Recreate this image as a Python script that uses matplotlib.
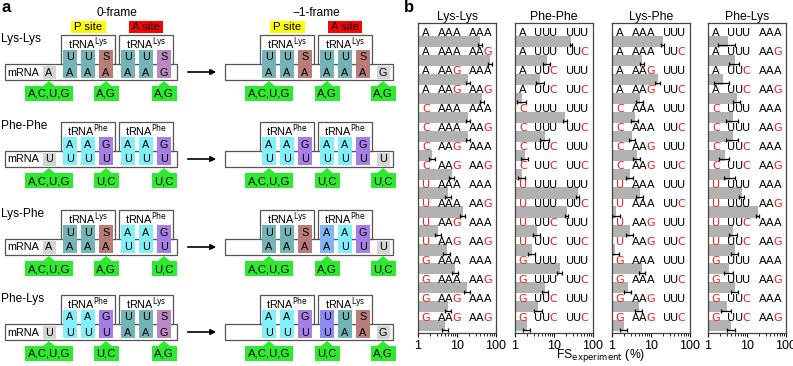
import numpy as np
import matplotlib
matplotlib.use("Agg")
import matplotlib.pyplot as plt
from matplotlib.patches import Rectangle, Polygon

plt.rcParams['font.family'] = ['Liberation Sans', 'DejaVu Sans']

# ---------------- panel a data ----------------
constructs = ['Lys-Lys', 'Phe-Phe', 'Lys-Phe', 'Phe-Lys']
trna_names = [('Lys', 'Lys'), ('Phe', 'Phe'), ('Lys', 'Phe'), ('Phe', 'Lys')]
zero_first = ['A', 'U', 'A', 'U']
zero_codons = ['AAAAAG', 'UUUUUU', 'AAAUUU', 'UUUAAG']
anticodons = ['UUSUUS', 'AAGAAG', 'UUSAAG', 'AAGUUS']
shift_codons = ['AAAAAA', 'UUUUUU', 'AAAAUU', 'UUUUAA']
shift_last = ['G', 'U', 'U', 'G']
green_labels = [('A,C,U,G', 'A,G', 'A,G'), ('A,C,U,G', 'U,C', 'U,C'),
                ('A,C,U,G', 'A,G', 'U,C'), ('A,C,U,G', 'U,C', 'A,G')]

pair_colors = {('U', 'A'): '#74b4b6', ('S', 'A'): '#b97c7a', ('S', 'G'): '#bb88c4',
               ('A', 'U'): '#82f0fa', ('G', 'U'): '#a77ee4', ('A', 'A'): '#82b6f0',
               ('U', 'U'): '#8c8cf0'}

# ---------------- panel b data ----------------
panel_titles = ['Lys-Lys', 'Phe-Phe', 'Lys-Phe', 'Phe-Lys']
first_nt = ['A'] * 4 + ['C'] * 4 + ['U'] * 4 + ['G'] * 4
codon_pairs = [[('AAA', 'AAA'), ('AAA', 'AAG'), ('AAG', 'AAA'), ('AAG', 'AAG')],
               [('UUU', 'UUU'), ('UUU', 'UUC'), ('UUC', 'UUU'), ('UUC', 'UUC')],
               [('AAA', 'UUU'), ('AAA', 'UUC'), ('AAG', 'UUU'), ('AAG', 'UUC')],
               [('UUU', 'AAA'), ('UUU', 'AAG'), ('UUC', 'AAA'), ('UUC', 'AAG')]]

fs_lyslys = [39, 70, 19, 44, 19, 19, 2.3, 7.4, 5.9, 14, 3.3, 5.5, 9, 18, 6, 5]
fs_phephe = [27, 6.6, 4.4, 1.5, 19, 5.9, 1.8, 1.5, 41, 21, 3.7, 2.7, 14, 6, 4, 2]
fs_lysphe = [20, 5.9, 15, 5.2, 3.9, 3.3, 4.4, 2.9, 5.2, 1.3, 2.9, 1.2, 6, 2.5, 5, 2]
fs_phelys = [3.3, 4.9, 2.4, 5.5, 4.4, 4.4, 2.7, 3.7, 7.4, 19, 4.4, 4.9, 3.5, 5, 3, 4]

err_lyslys = [4, 8, 2, 5, 2, 2, 0.4, 1.2, 1.0, 2, 0.6, 1.0, 1.5, 3, 1, 0.8]
err_phephe = [2, 1.5, 1.0, 0.4, 2, 1.5, 0.4, 0.3, 4, 1.5, 0.8, 0.5, 2, 1, 1, 0.4]
err_lysphe = [2, 0.8, 2, 1.0, 0.8, 0.6, 0.9, 0.6, 1.0, 0.3, 0.6, 0.3, 1, 0.5, 1, 0.4]
err_phelys = [1.5, 1.5, 1.0, 1.0, 1.5, 1.5, 0.8, 1.2, 1.2, 1.5, 1.0, 1.0, 1, 1, 0.8, 1]

fs_values = [fs_lyslys, fs_phephe, fs_lysphe, fs_phelys]
fs_errors = [err_lyslys, err_phephe, err_lysphe, err_phelys]

W, H = 793, 366
fig = plt.figure(figsize=(W / 100, H / 100), dpi=100)

# ---------------- panel a (pixel coordinates) ----------------
axa = fig.add_axes([0, 0, 1, 1])
axa.set_xlim(0, W)
axa.set_ylim(H, 0)
axa.axis('off')

edge = '#555555'
green = '#2eea2e'
fsz = 7.8


def tile_x(base, i):
    return base + 18 * i + (4 if i >= 3 else 0)


def draw_green(cx, y0, label):
    wbox = 48 if len(label) > 4 else 25
    axa.add_patch(Polygon([(cx - 6, y0 + 22), (cx + 6, y0 + 22), (cx, y0 + 17)],
                          closed=True, color=green, lw=0))
    axa.add_patch(Rectangle((cx - wbox / 2, y0 + 22), wbox, 15, color=green, lw=0))
    axa.text(cx, y0 + 30, label, ha='center', va='center', fontsize=8.2)


def draw_construct(r, y0, base, mrna_x, codons, grey_x, grey_nt, shifted):
    # mRNA strand
    axa.add_patch(Rectangle((mrna_x[0], y0), mrna_x[1] - mrna_x[0], 16,
                            fc='white', ec=edge, lw=0.9, zorder=1))
    if not shifted:
        axa.text(7, y0 + 8.5, 'mRNA', ha='left', va='center', fontsize=fsz, zorder=4)
    axa.add_patch(Rectangle((grey_x - 6.5, y0 + 2), 13, 13, fc='#d4d4d4', lw=0, zorder=2))
    axa.text(grey_x, y0 + 8.5, grey_nt, ha='center', va='center', fontsize=fsz, zorder=4)
    # tRNAs
    for k in range(2):
        xl = tile_x(base, 3 * k) - 9
        xr = tile_x(base, 3 * k + 2) + 9
        axa.add_patch(Rectangle((xl, y0 - 29), xr - xl, 29, fc='white', ec=edge,
                                lw=0.9, zorder=1))
        axa.text((xl + xr) / 2, y0 - 20, r'tRNA$^{\rm %s}$' % trna_names[r][k],
                 ha='center', va='center', fontsize=fsz, zorder=4)
    for i in range(6):
        cx = tile_x(base, i)
        a, c = anticodons[r][i], codons[i]
        axa.add_patch(Rectangle((cx - 7, y0 - 14), 14, 28, fc=pair_colors[(a, c)],
                                lw=0, zorder=2))
        axa.text(cx, y0 - 6.5, a, ha='center', va='center', fontsize=fsz, zorder=4)
        axa.text(cx, y0 + 8.5, c, ha='center', va='center', fontsize=fsz, zorder=4)
    gx = [grey_x, tile_x(base, 2), tile_x(base, 5)] if not shifted else \
        [tile_x(base, 0), tile_x(base, 3), grey_x]
    for cx, lab in zip(gx, green_labels[r]):
        draw_green(cx, y0, lab)


row_y = [64, 151, 239, 324]
for r, y0 in enumerate(row_y):
    axa.text(1, y0 - 25, constructs[r], ha='left', va='center', fontsize=8.6)
    draw_construct(r, y0, 70, (5, 177), zero_codons[r], 49, zero_first[r], False)
    draw_construct(r, y0, 269, (225, 393), shift_codons[r], 383, shift_last[r], True)
    axa.annotate('', xy=(219, y0 + 8), xytext=(185, y0 + 8),
                 arrowprops=dict(arrowstyle='-|>', color='black', lw=1.2,
                                 mutation_scale=8))

for base, title in [(70, '0-frame'), (269, '\u22121-frame')]:
    c1, c2 = tile_x(base, 1), tile_x(base, 4)
    axa.text((c1 + c2) / 2, 13, title, ha='center', va='center', fontsize=8.6)
    axa.add_patch(Rectangle((c1 - 17.5, 21), 35, 12, color='#ffff00', lw=0))
    axa.text(c1, 27, 'P site', ha='center', va='center', fontsize=8.2)
    axa.add_patch(Rectangle((c2 - 17, 21), 34, 12, color='#ff0000', lw=0))
    axa.text(c2, 27, 'A site', ha='center', va='center', fontsize=8.2)

axa.text(2, 8, 'a', ha='left', va='center', fontsize=12, fontweight='bold')
axa.text(404, 8, 'b', ha='left', va='center', fontsize=12, fontweight='bold')

# ---------------- panel b ----------------
lefts = [418, 515, 612, 708]
top, bottom, pw = 23, 333, 78
y = np.arange(16)
letter_x = [0.10, 0.30, 0.395, 0.49, 0.70, 0.795, 0.89]

for p in range(4):
    ax = fig.add_axes([lefts[p] / W, 1 - bottom / H, pw / W, (bottom - top) / H])
    vals = np.array(fs_values[p])
    ax.barh(y, vals - 1, left=1, height=0.58, color='#b2b2b2', lw=0, zorder=1)
    ax.errorbar(vals, y + 0.2, xerr=fs_errors[p], fmt='none', ecolor='black',
                elinewidth=0.9, capsize=1.5, capthick=0.9, zorder=3)
    ax.set_xscale('log')
    ax.set_xlim(1, 100)
    ax.set_ylim(15.37, -0.95)
    ax.set_yticks([])
    ax.set_xticks([1, 10, 100])
    ax.set_xticklabels(['1', '10', '100'])
    ax.tick_params(axis='x', which='major', labelsize=9, length=3, width=0.8, pad=2)
    ax.tick_params(axis='x', which='minor', length=1.8, width=0.6)
    for s in ax.spines.values():
        s.set_color('#444444')
        s.set_linewidth(0.9)
    ax.set_title(panel_titles[p], fontsize=8.8, pad=2)
    tr = ax.get_yaxis_transform()
    for i in range(16):
        c1, c2 = codon_pairs[p][i % 4]
        seq = first_nt[i] + c1 + c2
        for j, ch in enumerate(seq):
            red = (ch != 'A') if j == 0 else (ch in 'GC')
            ax.text(letter_x[j], i - 0.42, ch, transform=tr, ha='center', va='center',
                    fontsize=8.0, color='#e8211f' if red else 'black',
                    family='DejaVu Sans', zorder=4)

fig.text(601 / W, 1 - 356 / H, r'FS$_{\rm experiment}$ (%)', ha='center', va='center',
         fontsize=8.8)

fig.savefig('out.png', dpi=100)
